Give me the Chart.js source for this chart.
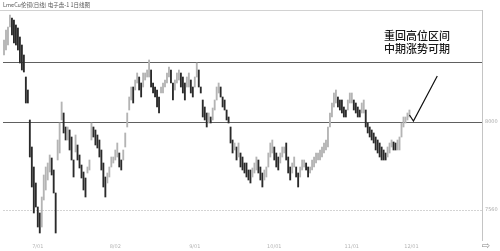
<!DOCTYPE html>
<html>
<head>
<meta charset="utf-8">
<script src="https://cdn.jsdelivr.net/npm/chart.js@4.4.0/dist/chart.umd.min.js"></script>
<style>
  html, body { margin: 0; padding: 0; background: #fff; }
  #wrap { width: 500px; height: 251px; }
</style>
</head>
<body>
<div id="wrap"><canvas id="lmeChart" width="500" height="251"></canvas></div>
<script>
// daily high / low (one bar per trading day)
const highs = [8410,8460,8475,8535,8520,8510,8485,8470,8425,8385,8335,8225,8160,8010,7875,7775,7695,7575,7545,7625,
  7735,7775,7795,7835,7820,7760,7645,7910,7995,8100,8045,7975,7975,7960,7925,7810,7935,7885,7835,7785,
  7750,7720,7775,7810,7995,7975,7960,7935,7910,7860,7795,7725,7745,7775,7825,7825,7860,7895,7845,7810,
  7860,7945,8045,8125,8175,8175,8210,8245,8225,8195,8245,8245,8260,8310,8260,8195,8175,8160,8125,8175,
  8195,8210,8245,8275,8260,8195,8210,8245,8260,8245,8225,8195,8225,8245,8210,8175,8225,8295,8260,8175,
  8110,8075,8045,8045,8025,8070,8110,8175,8195,8175,8125,8110,8060,8025,7975,7910,7895,7875,7895,7845,
  7825,7795,7795,7760,7760,7770,7795,7825,7810,7775,7745,7760,7775,7845,7895,7910,7875,7845,7825,7845,
  7875,7875,7895,7825,7775,7795,7825,7775,7745,7775,7810,7810,7795,7775,7775,7810,7825,7845,7845,7860,
  7875,7895,7910,7975,8045,8095,8145,8160,8125,8110,8110,8075,8060,8110,8145,8145,8110,8095,8075,8060,
  8095,8110,8060,7995,7975,7960,7945,7925,7910,7895,7875,7860,7845,7875,7895,7910,7900,7895,7910,7925,
  7995,8025,8025,8045,8060];
const lows = [8335,8360,8385,8475,8435,8395,8385,8360,8295,8260,8250,8095,8095,7825,7675,7545,7575,7475,7445,7475,
  7610,7660,7710,7750,7735,7645,7445,7810,7845,8010,7945,7910,7910,7860,7810,7725,7850,7810,7770,7720,
  7660,7625,7745,7760,7910,7925,7885,7870,7825,7760,7675,7625,7695,7725,7775,7795,7810,7825,7775,7760,
  7810,7875,7975,8060,8110,8095,8160,8195,8160,8125,8175,8210,8225,8225,8175,8145,8125,8075,8045,8145,
  8145,8175,8195,8225,8195,8110,8160,8195,8210,8175,8145,8110,8175,8175,8145,8125,8175,8225,8175,8145,
  8025,8010,7975,7995,7995,8010,8060,8110,8145,8125,8075,8060,8010,7995,7895,7845,7860,7810,7825,7775,
  7760,7745,7725,7710,7695,7725,7745,7760,7745,7710,7675,7710,7725,7775,7825,7845,7810,7775,7760,7795,
  7825,7845,7810,7745,7710,7745,7775,7725,7675,7725,7760,7775,7760,7725,7745,7760,7775,7795,7810,7810,
  7825,7845,7860,7875,7975,8025,8075,8095,8075,8060,8045,8025,8025,8060,8095,8095,8060,8045,8025,8025,
  8045,8045,7975,7945,7925,7910,7895,7860,7845,7825,7810,7810,7810,7825,7845,7875,7860,7860,7860,7860,
  7925,7975,7995,8010,8025];

const totalDays = 241;                 // slots on the x axis, the right part is still empty
const xTickIdx = [17, 56, 96, 136, 175, 205];
const xTickText = ["7/01", "8/02", "9/01", "10/01", "11/01", "12/01"];
const yTicks = [8000, 7560];
const levels = [8300, 8000];           // drawn support / resistance
const dottedLevel = 7560;
const checkIdx = [204, 206, 218];      // hand drawn tick mark
const checkVal = [8035, 8005, 8230];
const noteLines = ["重回高位区间", "中期涨势可期"];
const titleText = "LmeCu伦铜(日线) 电子盘-1 1日线图";

const labels = Array.from({ length: totalDays }, (_, i) => i);
const barData = highs.map((h, i) => [lows[i], h]);
const checkData = new Array(totalDays).fill(null);
checkIdx.forEach((k, j) => { checkData[k] = checkVal[j]; });

const mids = highs.map((h, i) => (h + lows[i]) / 2);

const overlay = {
  id: "overlay",
  beforeDatasetsDraw(chart) {
    const { ctx, chartArea, scales } = chart;
    ctx.save();
    // top frame line
    ctx.strokeStyle = "#d2d2d2";
    ctx.lineWidth = 1;
    ctx.beginPath();
    ctx.moveTo(0, chartArea.top + 0.5);
    ctx.lineTo(chartArea.right, chartArea.top + 0.5);
    ctx.stroke();

    ctx.strokeStyle = "#606060";
    ctx.lineWidth = 1.2;
    levels.forEach(v => {
      const y = Math.round(scales.y.getPixelForValue(v)) + 0.5;
      ctx.beginPath();
      ctx.moveTo(chartArea.left, y);
      ctx.lineTo(chartArea.right, y);
      ctx.stroke();
    });

    ctx.strokeStyle = "#d4d4d4";
    ctx.lineWidth = 1;
    ctx.setLineDash([2, 1]);
    const yd = Math.round(scales.y.getPixelForValue(dottedLevel)) + 0.5;
    ctx.beginPath();
    ctx.moveTo(chartArea.left, yd);
    ctx.lineTo(chartArea.right, yd);
    ctx.stroke();
    ctx.restore();
  },
  afterDraw(chart) {
    const { ctx, chartArea } = chart;
    ctx.save();
    ctx.fillStyle = "#555";
    ctx.font = '5.5px "Noto Sans CJK SC"';
    ctx.textBaseline = "middle";
    ctx.textAlign = "left";
    ctx.fillText(titleText, 3, 5);

    ctx.fillStyle = "#1a1a1a";
    ctx.font = '500 11px "Noto Sans CJK SC"';
    ctx.textAlign = "center";
    ctx.fillText(noteLines[0], 417, 36);
    ctx.fillText(noteLines[1], 417, 49);

    ctx.fillStyle = "#888";
    ctx.font = '10px "DejaVu Sans"';
    ctx.fillText("⇨", chartArea.right + 4, 246);
    ctx.restore();
  }
};

new Chart(document.getElementById("lmeChart"), {
  type: "bar",
  data: {
    labels: labels,
    datasets: [
      {
        label: "LmeCu",
        data: barData,
        barThickness: 1.2,
        backgroundColor: c => (c.dataIndex > 0 && mids[c.dataIndex] < mids[c.dataIndex - 1]) ? "#2a2a2a" : "#b4b4b4",
        borderWidth: 0,
        order: 2
      },
      {
        type: "line",
        label: "check",
        data: checkData,
        borderColor: "#111",
        borderWidth: 1.2,
        pointRadius: 0,
        spanGaps: true,
        order: 1
      }
    ]
  },
  options: {
    responsive: false,
    animation: false,
    layout: { padding: { top: 10, left: 0, right: 0, bottom: 0 } },
    plugins: {
      legend: { display: false },
      tooltip: { enabled: false },
      title: { display: false }
    },
    scales: {
      x: {
        grid: { display: false, drawTicks: false },
        border: { display: false },
        ticks: {
          autoSkip: false,
          maxRotation: 0,
          minRotation: 0,
          padding: 4,
          color: "#b5b5b5",
          font: { size: 5, family: "DejaVu Sans" },
          callback: (val, i) => {
            const k = xTickIdx.indexOf(i);
            return k >= 0 ? xTickText[k] : "";
          }
        },
        afterFit: scale => { scale.height = 11; }
      },
      y: {
        position: "right",
        min: 7410,
        max: 8560,
        grid: { display: false, drawTicks: false },
        border: { display: true, color: "#c4c4c4", width: 1 },
        afterBuildTicks: scale => { scale.ticks = yTicks.map(v => ({ value: v })); },
        ticks: {
          padding: 3,
          color: "#aaaaaa",
          font: { size: 5, family: "DejaVu Sans" },
          callback: v => String(v)
        },
        afterFit: scale => { scale.width = 18; }
      }
    }
  },
  plugins: [overlay]
});
</script>
</body>
</html>
